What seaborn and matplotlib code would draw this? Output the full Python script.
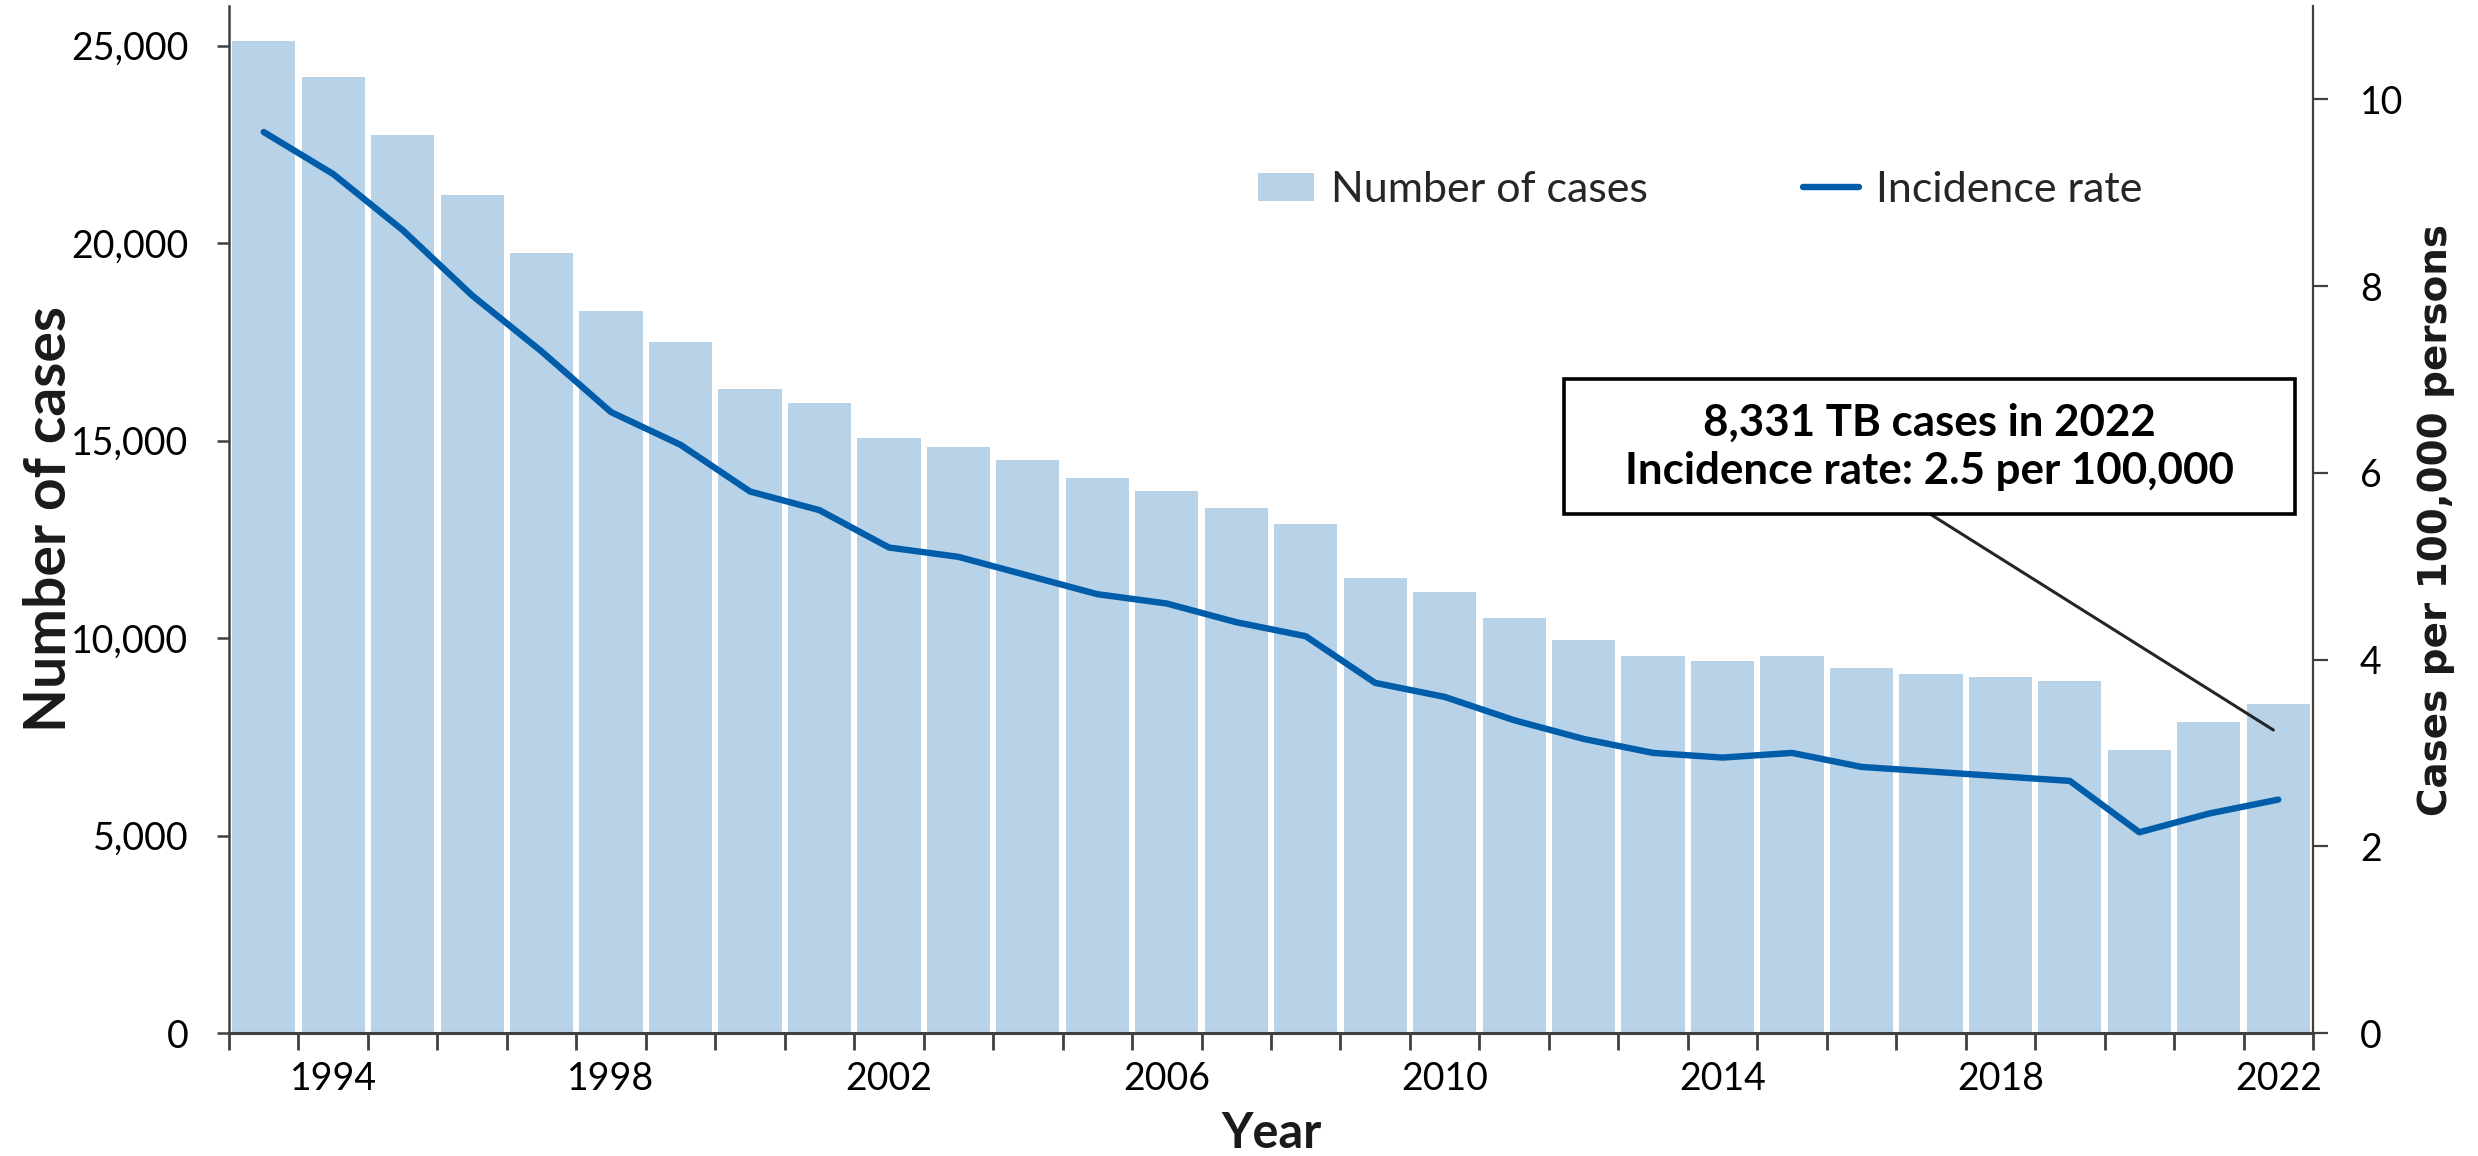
import numpy as np
import pandas as pd
import matplotlib
matplotlib.use("Agg")
import matplotlib.pyplot as plt
from matplotlib.ticker import FuncFormatter, FixedLocator
from matplotlib.patches import Rectangle, Patch
from matplotlib.lines import Line2D
import seaborn as sns

# ---------------- data ----------------
years = list(range(1993, 2023))
cases = [25102, 24206, 22727, 21210, 19751, 18286, 17500, 16309, 15945, 15055,
         14835, 14499, 14063, 13732, 13282, 12895, 11523, 11161, 10510, 9940,
         9555, 9406, 9547, 9252, 9088, 9021, 8900, 7170, 7874, 8331]
rates = [9.65, 9.2, 8.6, 7.9, 7.3, 6.65, 6.3, 5.8, 5.6, 5.2,
         5.1, 4.9, 4.7, 4.6, 4.4, 4.25, 3.75, 3.6, 3.35, 3.15,
         3.0, 2.95, 3.0, 2.85, 2.8, 2.75, 2.7, 2.15, 2.35, 2.5]
label_years = [1994, 1998, 2002, 2006, 2010, 2014, 2018, 2022]
left_ticks = [0, 5000, 10000, 15000, 20000, 25000]
right_ticks = [0, 2, 4, 6, 8, 10]
legend_labels = ["Number of cases", "Incidence rate"]
ann_lines = ["8,331 TB cases in 2022", "Incidence rate: 2.5 per 100,000"]
ann_year = 2022
ann_cases_offset = 7670  # point of the callout on the left (cases) scale

# ---------------- style ----------------
sns.set_theme(style="ticks")
plt.rcParams['font.family'] = ['Lato', 'DejaVu Sans']

BAR = "#B8D2E8"
LINE = "#005DAA"
AXC = "#404040"

df = pd.DataFrame({"year": years, "cases": cases, "rate": rates})
df["pos"] = np.arange(len(df))

fig = plt.figure(figsize=(12.39, 5.78), dpi=200)
ax = fig.add_axes([229/2478, 1 - 1033/1156, (2313-229)/2478, (1033-6)/1156])

sns.barplot(data=df, x="year", y="cases", color=BAR, saturation=1, width=0.91,
            ax=ax, edgecolor="none", linewidth=0)
ax.set_xlim(-0.5, len(df) - 0.5)
ax.set_ylim(0, 26000)

ax2 = ax.twinx()
sns.lineplot(data=df, x="pos", y="rate", ax=ax2, color=LINE, linewidth=2.3,
             solid_capstyle="round", solid_joinstyle="round")
ax2.set_ylim(0, 11)
ax2.set_xlim(-0.5, len(df) - 0.5)

# x ticks: labels every 4 years at bar centres, tick marks at boundaries
lab_pos = [years.index(y) for y in label_years]
ax.xaxis.set_major_locator(FixedLocator(lab_pos))
ax.set_xticklabels([str(y) for y in label_years])
ax.xaxis.set_minor_locator(FixedLocator(np.arange(-0.5, len(df), 1.0)))
ax.tick_params(axis="x", which="major", length=0, pad=10, labelsize=13.5, labelcolor="black")
ax.tick_params(axis="x", which="minor", length=6, width=1.0, color=AXC)

ax.set_yticks(left_ticks)
ax.yaxis.set_major_formatter(FuncFormatter(lambda v, p: f"{int(v):,}"))
ax.tick_params(axis="y", length=4.3, width=0.9, color=AXC, pad=10.4, labelsize=13.5, labelcolor="black")

ax2.set_yticks(right_ticks)
ax2.tick_params(axis="y", length=5.4, width=0.8, color=AXC, pad=11.5, labelsize=13.5, labelcolor="black")

for a in (ax, ax2):
    a.spines["top"].set_visible(False)
ax.spines["left"].set_color(AXC); ax.spines["left"].set_linewidth(0.9)
ax.spines["bottom"].set_color(AXC); ax.spines["bottom"].set_linewidth(1.1)
ax.spines["right"].set_visible(False)
ax2.spines["left"].set_visible(False)
ax2.spines["bottom"].set_visible(False)
ax2.spines["right"].set_color(AXC); ax2.spines["right"].set_linewidth(0.8)

ax.set_xlabel("Year", fontsize=17.5, fontweight="bold", labelpad=5, color="#1a1a1a")
ax.set_ylabel("Number of cases", fontsize=20.5, fontweight="bold", labelpad=-2, color="#1a1a1a")
ax2.set_ylabel("Cases per 100,000 persons", fontsize=14, fontweight="bold",
               family="DejaVu Sans", labelpad=5, color="#1a1a1a", rotation=90)

# legend
handles = [Patch(facecolor=BAR, edgecolor="none"),
           Line2D([0], [0], color=LINE, linewidth=2.3, solid_capstyle="round")]
leg = ax2.legend(handles, legend_labels, loc="center left",
                 bbox_to_anchor=((1258-229)/2084, (1033-190)/1027), ncol=2,
                 frameon=False, fontsize=15.5, handlelength=1.3, handleheight=0.65,
                 handletextpad=0.4, columnspacing=3.6, borderpad=0, borderaxespad=0)
for t in leg.get_texts():
    t.set_color("#262626")

# callout box
bx0, bx1 = (1564-229)/2084, (2295-229)/2084
by0, by1 = (1033-514)/1027, (1033-379)/1027
ax2.add_patch(Rectangle((bx0, by0), bx1 - bx0, by1 - by0, transform=ax2.transAxes,
                        facecolor="white", edgecolor="black", linewidth=1.3, zorder=5,
                        clip_on=False))
ax2.text((bx0 + bx1)/2, (by0 + by1)/2, "\n".join(ann_lines), transform=ax2.transAxes,
         ha="center", va="center", fontsize=15.8, fontweight="bold", linespacing=1.25,
         color="black", zorder=6)
ax2.annotate("", xy=(years.index(ann_year) - 0.07, ann_cases_offset), xycoords=ax.transData,
             xytext=((1930-229)/2084, by0), textcoords=ax2.transAxes,
             arrowprops=dict(arrowstyle="-", color="#262626", linewidth=1.1,
                             shrinkA=0, shrinkB=0), zorder=4)

fig.savefig("out.png", dpi=200, facecolor="white")
